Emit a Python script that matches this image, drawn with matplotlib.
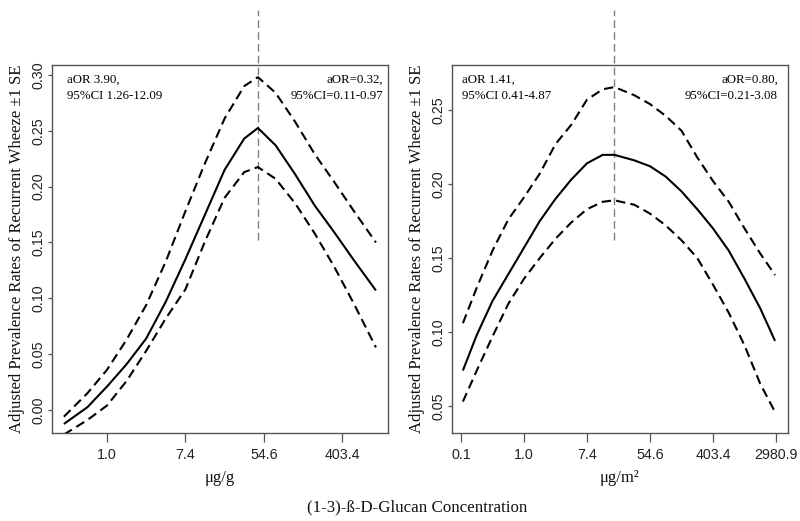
import numpy as np
import matplotlib
matplotlib.use("Agg")
import matplotlib.pyplot as plt

# ---- data (x in ln(concentration) units) ----
left_x = [-1.1, -0.5, 0.0, 0.5, 1.0, 1.5, 2.0, 2.5, 3.0, 3.5, 3.85, 4.3, 4.8, 5.3, 5.8, 6.3, 6.86]
left_mid = [-0.0125, 0.0025, 0.021, 0.041, 0.064, 0.097, 0.135, 0.175, 0.215, 0.243, 0.2525,
            0.237, 0.211, 0.183, 0.159, 0.134, 0.107]
left_up = [-0.006, 0.015, 0.036, 0.063, 0.094, 0.133, 0.178, 0.221, 0.261, 0.290, 0.298,
           0.284, 0.258, 0.229, 0.204, 0.178, 0.150]
left_lo = [-0.022, -0.009, 0.004, 0.026, 0.053, 0.082, 0.108, 0.151, 0.190, 0.213, 0.2175,
           0.207, 0.185, 0.158, 0.128, 0.095, 0.056]

right_x = [-1.94, -1.5, -1.0, -0.5, 0.0, 0.5, 1.0, 1.5, 2.0, 2.5, 2.87, 3.5, 4.0, 4.5, 5.0,
           5.5, 6.0, 6.5, 7.0, 7.5, 7.97]
right_mid = [0.074, 0.098, 0.121, 0.139, 0.157, 0.175, 0.190, 0.203, 0.214, 0.2197, 0.2197,
             0.216, 0.212, 0.205, 0.195, 0.183, 0.170, 0.155, 0.136, 0.116, 0.094]
right_up = [0.106, 0.130, 0.155, 0.176, 0.191, 0.207, 0.227, 0.240, 0.257, 0.264, 0.2655,
            0.260, 0.254, 0.246, 0.236, 0.218, 0.202, 0.188, 0.170, 0.153, 0.1385]
right_lo = [0.053, 0.074, 0.097, 0.119, 0.136, 0.150, 0.163, 0.174, 0.183, 0.188, 0.189,
            0.186, 0.180, 0.172, 0.162, 0.150, 0.132, 0.113, 0.091, 0.065, 0.046]

left_vline = 3.85
right_vline = 2.87

left_xticks = [0, 2, 4, 6]
left_xticklabels = ["1.0", "7.4", "54.6", "403.4"]
right_xticks = [-2, 0, 2, 4, 6, 8]
right_xticklabels = ["0.1", "1.0", "7.4", "54.6", "403.4", "2980.9"]
left_yticks = [0.00, 0.05, 0.10, 0.15, 0.20, 0.25, 0.30]
right_yticks = [0.05, 0.10, 0.15, 0.20, 0.25]

ylabel = "Adjusted Prevalence Rates of Recurrent Wheeze \u00b11 SE"
left_ann = ("aOR 3.90,\n95%CI 1.26-12.09", "aOR=0.32,\n95%CI=0.11-0.97")
right_ann = ("aOR 1.41,\n95%CI 0.41-4.87", "aOR=0.80,\n95%CI=0.21-3.08")

SERIF = ["Liberation Serif", "DejaVu Serif"]
SANS = ["Liberation Sans", "DejaVu Sans"]

fig = plt.figure(figsize=(8.0, 5.21), dpi=100)
W, H = 800, 521


def make_ax(x0, x1, y0, y1):
    return fig.add_axes([x0 / W, (H - y1) / H, (x1 - x0) / W, (y1 - y0) / H])


def style(ax, xt, xtl, yt, xlim, ylim, xlabel, vline, vy):
    ax.set_xlim(*xlim)
    ax.set_ylim(*ylim)
    for s in ax.spines.values():
        s.set_color("#555555")
        s.set_linewidth(1.0)
    ax.set_xticks(xt)
    ax.set_xticklabels(xtl, fontfamily=SANS, fontsize=10.3, color="#222222")
    ax.set_yticks(yt)
    ax.set_yticklabels([f"{v:.2f}" for v in yt], fontfamily=SANS, fontsize=10.3,
                       color="#222222", rotation=90, va="center")
    ax.tick_params(axis="x", length=6.5, width=0.9, color="#555555", pad=4)
    ax.tick_params(axis="y", length=3, width=0.9, color="#555555", pad=2)
    ax.set_ylabel(ylabel, fontfamily=SERIF, fontsize=12, color="#111111")
    ax.set_xlabel(xlabel, fontfamily=SERIF, fontsize=12, color="#111111")
    ax.xaxis.label.set_va("center")
    ax.xaxis.set_label_coords(0.5, -0.122)
    ax.yaxis.set_label_coords(-0.080, 0.5)
    ax.plot([vline, vline], vy, color="#808080", lw=1.0, dashes=(5.5, 3), clip_on=False, zorder=1)


def curves(ax, x, lo, mid, up):
    ax.plot(x, mid, color="black", lw=1.5, solid_capstyle="butt", zorder=3)
    ax.plot(x, up, color="black", lw=1.5, dashes=(4.5, 2.5), zorder=3)
    ax.plot(x, lo, color="black", lw=1.5, dashes=(4.5, 2.5), zorder=3)


# left panel
axL = make_ax(52, 388, 65, 433)
curves(axL, left_x, left_lo, left_mid, left_up)
style(axL, left_xticks, left_xticklabels, left_yticks, (-1.403, 7.168), (-0.0206, 0.3089),
      "\u03bcg/g", left_vline, (0.152, 0.358))
axL.text(0.045, 0.975, left_ann[0], transform=axL.transAxes, ha="left", va="top",
         fontfamily=SERIF, fontsize=9.3, linespacing=1.45)
axL.text(0.985, 0.975, left_ann[1], transform=axL.transAxes, ha="right", va="top",
         fontfamily=SERIF, fontsize=9.3, linespacing=1.45, multialignment="right")

# right panel
axR = make_ax(452, 788, 65, 433)
curves(axR, right_x, right_lo, right_mid, right_up)
style(axR, right_xticks, right_xticklabels, right_yticks, (-2.286, 8.381), (0.0318, 0.2804),
      "\u03bcg/m\u00b2", right_vline, (0.162, 0.3176))
axR.text(0.030, 0.975, right_ann[0], transform=axR.transAxes, ha="left", va="top",
         fontfamily=SERIF, fontsize=9.3, linespacing=1.45)
axR.text(0.970, 0.975, right_ann[1], transform=axR.transAxes, ha="right", va="top",
         fontfamily=SERIF, fontsize=9.3, linespacing=1.45, multialignment="right")

fig.text(417 / W, (H - 507) / H, "(1-3)-\u00df-D-Glucan Concentration", ha="center", va="center",
         fontfamily=SERIF, fontsize=12.2, color="#111111")

fig.savefig("out.png", dpi=100, facecolor="white")
